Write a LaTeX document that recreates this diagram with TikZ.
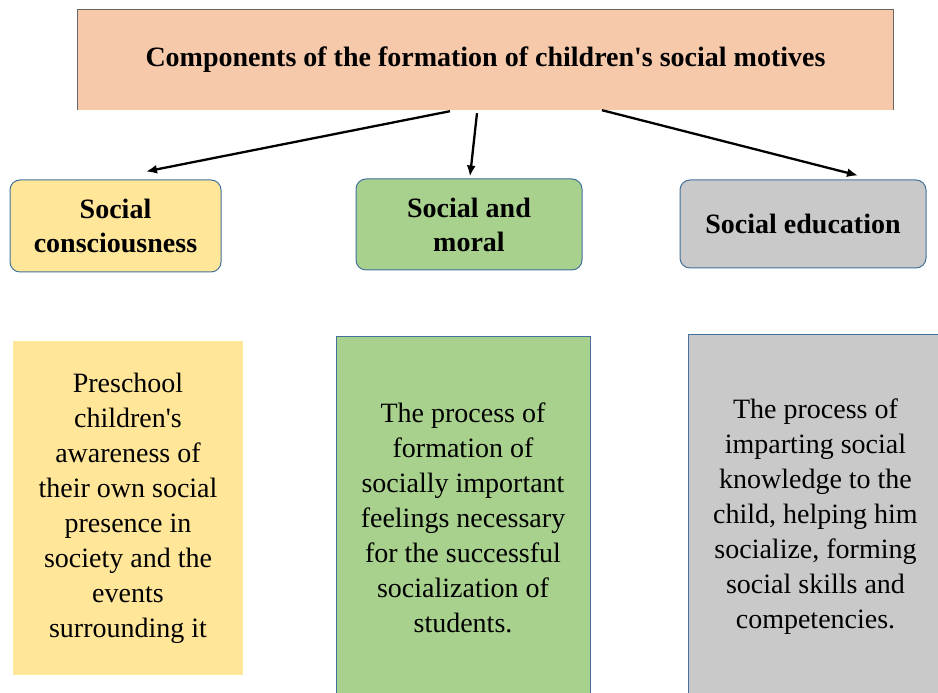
\documentclass[tikz,border=0pt]{standalone}
\usepackage{fontspec}
\setmainfont{LiberationSerif}[Extension=.ttf,UprightFont=*-Regular,BoldFont=*-Bold,
  ItalicFont=*-Italic,BoldItalicFont=*-BoldItalic]
\usetikzlibrary{positioning,arrows.meta}

\definecolor{peach}{HTML}{F7C9AB}
\definecolor{sun}{HTML}{FFE699}
\definecolor{leaf}{HTML}{A9D18E}
\definecolor{ash}{HTML}{C9C9C9}
\definecolor{edge}{HTML}{41719C}

\tikzset{
  every node/.style={align=center,inner sep=0pt},
  head/.style={rectangle,rounded corners=10pt,draw=edge,line width=1pt,
    font=\fontsize{28}{34}\selectfont\bfseries},
  desc/.style={rectangle,font=\fontsize{28}{35}\selectfont},
  sunfill/.style={fill=sun},
  leaffill/.style={fill=leaf},
  ashfill/.style={fill=ash},
  link/.style={-{Latex[length=11pt,width=9pt]},line width=2.3pt}
}

\begin{document}
\begin{tikzpicture}[x=1pt,y=1pt]
      \useasboundingbox (0,0) rectangle (938,693);

      \node [fill=peach,minimum width=815,minimum height=100,
             font=\fontsize{28}{30}\selectfont\bfseries] (title) at (485.5,633)
        {Components of the formation of children\textquotesingle s social motives};
      \draw [black!60,line width=0.8pt] (title.south west) |- (title.north east) -- (title.south east);

      \node [head,sunfill,minimum width=211,minimum height=92] (consc) at (115.5,467) {Social\\consciousness};
      \node [head,leaffill,minimum width=226,minimum height=91] (moral) at (469,468.5) {Social and\\moral};
      \node [head,ashfill,minimum width=246,minimum height=88] (educ) at (803,469) {Social education};

      \node [desc,sunfill,minimum width=230,minimum height=334] (consctext) at (128,185)
        {Preschool\\children\textquotesingle s\\awareness of\\their own social\\presence in\\society and the\\events\\surrounding it};
      \node [desc,leaffill,draw=edge,line width=1pt,minimum width=254,minimum height=361] (moraltext) at (463,175.5)
        {The process of\\formation of\\socially important\\feelings necessary\\for the successful\\socialization of\\students.};
      \node [desc,ashfill,draw=edge,line width=1pt,minimum width=255,minimum height=363] (eductext) at (815.5,176.5)
        {The process of\\imparting social\\knowledge to the\\child, helping him\\socialize, forming\\social skills and\\competencies.};

      \draw [link] ([xshift=-35.5,yshift=-1]title.south) -- ([xshift=30.5,yshift=8]consc.north);
      \draw [link] ([xshift=-8.5,yshift=-3]title.south) -- ([xshift=1,yshift=2]moral.north);
      \draw [link] ([xshift=116.5]title.south) -- ([xshift=55,yshift=4]educ.north);
    \end{tikzpicture}
\end{document}
